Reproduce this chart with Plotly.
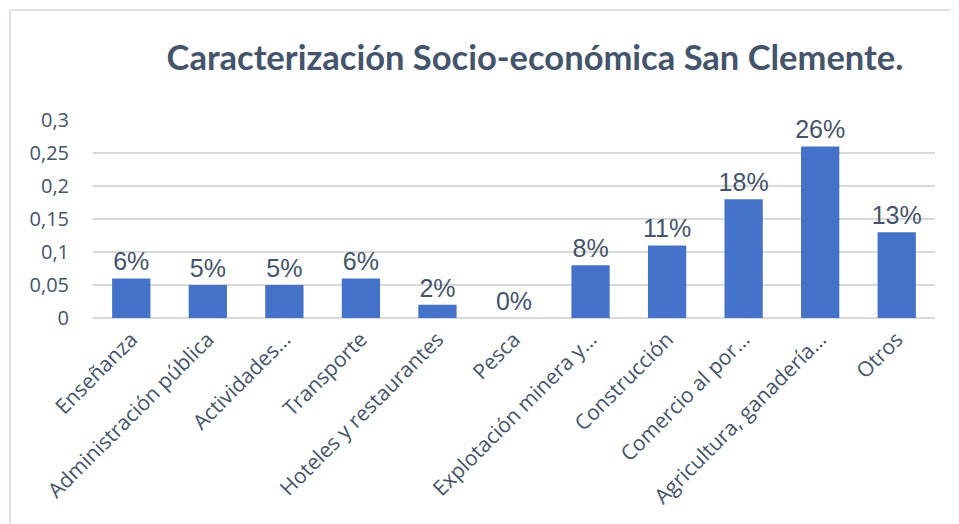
import plotly.graph_objects as go

# Sectores (etiquetas tal como aparecen, truncadas) y proporciones
sectores = [
    "Enseñanza",
    "Administración pública",
    "Actividades…",
    "Transporte",
    "Hoteles y restaurantes",
    "Pesca",
    "Explotación minera y…",
    "Construcción",
    "Comercio al por…",
    "Agricultura, ganadería…",
    "Otros",
]
proporcion = [0.06, 0.05, 0.05, 0.06, 0.02, 0.0, 0.08, 0.11, 0.18, 0.26, 0.13]

y_ticks = [0, 0.05, 0.1, 0.15, 0.2, 0.25, 0.3]

text_color = "#44546A"
grid_color = "#D9D9D9"

fig = go.Figure()

fig.add_trace(
    go.Bar(
        x=sectores,
        y=proporcion,
        marker=dict(color="#4472C8", line=dict(width=0)),
        texttemplate="%{y:.0%}",
        textposition="outside",
        textangle=0,
        constraintext="none",
        textfont=dict(family="Liberation Sans, Arial", size=25, color=text_color),
        cliponaxis=False,
        hoverinfo="skip",
    )
)

fig.update_layout(
    width=959,
    height=524,
    separators=",.",
    plot_bgcolor="white",
    paper_bgcolor="white",
    bargap=0.5,
    showlegend=False,
    # la página tiene 8px de margen en body, se compensa aquí
    margin=dict(l=85, r=32, t=112, b=214, autoexpand=False),
    title=dict(
        text="<b>Caracterización Socio-económica San Clemente.</b>",
        x=0.5495,
        xanchor="center",
        y=0.905,
        yanchor="middle",
        font=dict(family="Lato, Open Sans", size=34.5, color=text_color),
    ),
    font=dict(family="Open Sans", color=text_color),
    shapes=[
        # marco del gráfico (líneas izquierda y superior)
        dict(type="line", xref="paper", yref="paper", x0=-0.0986, x1=-0.0986,
             y0=1.5556, y1=-1.1, line=dict(color="#DDE2EA", width=2)),
        dict(type="line", xref="paper", yref="paper", x0=-0.0986, x1=1.1,
             y0=1.5556, y1=1.5556, line=dict(color="#DDE2EA", width=2)),
    ],
)

fig.update_yaxes(
    range=[0, 0.3],
    tickvals=y_ticks,
    automargin=False,
    showgrid=True,
    gridcolor=grid_color,
    gridwidth=1.5,
    zeroline=True,
    zerolinecolor=grid_color,
    zerolinewidth=1.5,
    showline=False,
    ticks="",
    ticklabelstandoff=23,
    tickfont=dict(family="Open Sans", size=20, color=text_color),
)

fig.update_xaxes(
    tickangle=-45,
    automargin=False,
    showgrid=False,
    showline=False,
    ticks="",
    ticklabelstandoff=4,
    tickfont=dict(family="Open Sans", size=21, color=text_color),
)

fig.write_html("out.html")
